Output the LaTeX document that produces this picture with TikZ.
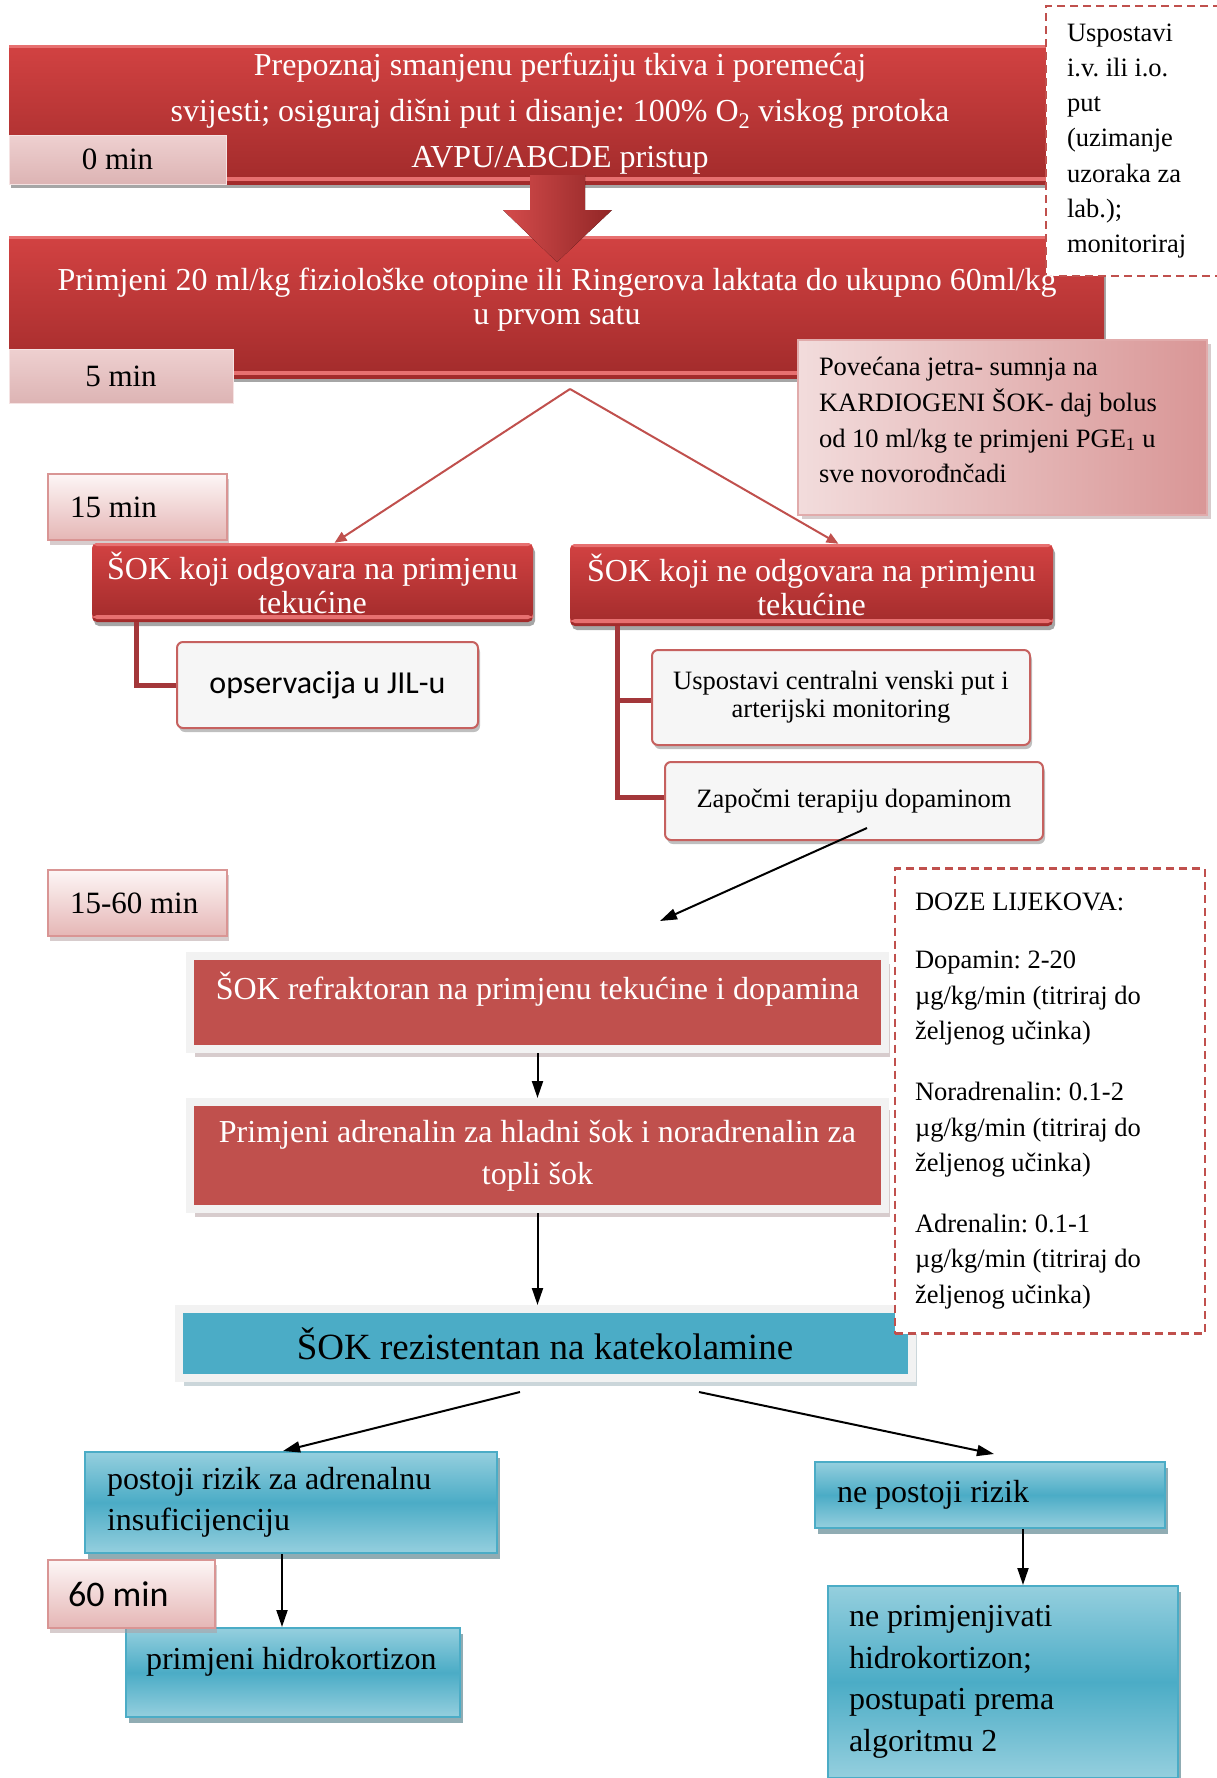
\documentclass[tikz,border=0pt]{standalone}
\usepackage{fontspec}
\setmainfont{Liberation Serif}
\newfontfamily\calibri{Carlito}
\usetikzlibrary{arrows.meta,shadows}
\frenchspacing

\definecolor{redtop}{HTML}{D24242}
\definecolor{redbot}{HTML}{A22B2B}
\definecolor{redhl}{HTML}{E77070}
\definecolor{accred}{HTML}{C0504D}
\definecolor{pinktop}{HTML}{EED0D0}
\definecolor{pinkbot}{HTML}{DDB4B4}
\definecolor{rosetop}{HTML}{FDF6F6}
\definecolor{rosebot}{HTML}{E5B6B5}
\definecolor{roseline}{HTML}{D99594}
\definecolor{liverlight}{HTML}{F2DCDC}
\definecolor{liverdark}{HTML}{D99696}
\definecolor{accblue}{HTML}{4BACC6}
\definecolor{bluelight}{HTML}{95CFDE}
\definecolor{blueshadow}{HTML}{215A68}
\definecolor{framegray}{HTML}{F2F2F2}
\definecolor{branchred}{HTML}{A3373A}
\definecolor{boxwhite}{HTML}{F6F6F6}
\definecolor{redshadow}{HTML}{B09A9C}
\definecolor{blueframeshadow}{HTML}{98AEB6}

\tikzset{
  bigtxt/.style={align=center,font=\fontsize{32}{46}\selectfont},
  redbox/.style={draw=none,top color=redtop,bottom color=redbot,
    drop shadow={shadow xshift=2pt,shadow yshift=-4pt,fill=black,opacity=.35},
    path picture={\fill[redhl] ([yshift=3pt]path picture bounding box.south west) rectangle ([yshift=7pt]path picture bounding box.south east);
      \fill[redhl] (path picture bounding box.north west) rectangle ([yshift=-3pt]path picture bounding box.north east);}},
  redround/.style={redbox,rounded corners=5pt,align=center,text=white,font=\fontsize{32}{34}\selectfont},
  pinklbl/.style={top color=pinktop,bottom color=pinkbot,draw=pinktop!60!white,line width=1pt,font=\fontsize{31}{36}\selectfont},
  roselbl/.style={top color=rosetop,bottom color=rosebot,draw=roseline,line width=1.5pt,align=flush left,
    drop shadow={shadow xshift=2pt,shadow yshift=-5pt,fill=redshadow},font=\fontsize{31}{36}\selectfont},
  liverbox/.style={left color=liverlight,right color=liverdark,draw=liverdark!80!white,line width=2pt,align=flush left,
    drop shadow={shadow xshift=4pt,shadow yshift=-4pt,fill=redshadow},font=\fontsize{26.5}{35.7}\selectfont},
  whitebox/.style={fill=boxwhite,draw=accred!90!white,line width=2pt,rounded corners=6pt,align=center,
    drop shadow={shadow xshift=2pt,shadow yshift=-4pt,fill=black,opacity=.25},font=\fontsize{26.5}{28}\selectfont},
  flatred/.style={fill=accred,draw=framegray,line width=8pt,text=white,align=flush center,
    drop shadow={shadow xshift=5pt,shadow yshift=-8pt,fill=redshadow},font=\fontsize{32}{42}\selectfont},
  flatblue/.style={fill=accblue,draw=framegray,line width=8pt,
    drop shadow={shadow xshift=5pt,shadow yshift=-8pt,fill=blueframeshadow},font=\fontsize{37}{40}\selectfont},
  bluebox/.style={top color=bluelight,bottom color=bluelight,middle color=accblue,draw=accblue,line width=2pt,align=flush left,
    drop shadow={shadow xshift=3pt,shadow yshift=-6pt,fill=blueshadow},font=\fontsize{32}{41.5}\selectfont},
  dashbox/.style={draw=accred,fill=white,line width=2.5pt,dash pattern=on 8pt off 5pt,align=flush left,font=\fontsize{26.5}{35.3}\selectfont},
  hightxt/.style={text height=22pt,text depth=29pt},
  splitline/.style={draw=accred,line width=2pt,-{Triangle[length=12pt,width=10pt]}},
  flow/.style={draw=black,line width=2pt,-{Triangle[length=17pt,width=11pt]}},
  branch/.style={draw=branchred,line width=5pt}
}

\begin{document}
\begin{tikzpicture}[x=1pt,y=-1pt]
\useasboundingbox (0,0) rectangle (1217,1778);
% 0 min
\node[redbox,minimum width=1037pt,minimum height=139pt] (recog) at (527.5,114.5) {};
\node[bigtxt,text=white] (recogtxt) at (560,114) {Prepoznaj smanjenu perfuziju tkiva i poremećaj\\ svijesti; osiguraj dišni put i disanje: 100\% O\textsubscript{2} viskog protoka\\ AVPU/ABCDE pristup};
\node[pinklbl,minimum width=217pt,minimum height=49pt] (t0) at (117.5,159.5) {0 min};
% 5 min
\node[redbox,minimum width=1095pt,minimum height=142pt] (fluid) at (556.5,307) {};
\node[dashbox,minimum width=180pt,minimum height=270pt,text width=138pt,inner xsep=21pt] (ivline) at (1136,141) {Uspostavi\\ i.v. ili i.o.\\ put\\ (uzimanje\\ uzoraka za\\ lab.);\\ monitoriraj};
\node[bigtxt,text=white,font=\fontsize{32}{34}\selectfont] (fluidtxt) at (557,300) {Primjeni 20 ml/kg fiziološke otopine ili Ringerova laktata do ukupno 60ml/kg\\ u prvom satu};
\node[pinklbl,minimum width=224pt,minimum height=54pt] (t5) at (121,376) {5 min};
\fill[left color=redtop!95!white,right color=redbot!90!black] (530,175) -- (585,175) -- (585,210) -- (612,210) -- (557,262) -- (503,210) -- (530,210) -- cycle;
% 15 min
\node[liverbox,minimum width=409pt,minimum height=175pt,text width=367pt,inner xsep=21pt] (liver) at (1002.5,427.5) {Povećana jetra- sumnja na\\ KARDIOGENI ŠOK- daj bolus\\ od 10 ml/kg te primjeni PGE\textsubscript{1} u\\ sve novorođnčadi\\[-21pt]\mbox{}};
\node[roselbl,minimum width=179pt,minimum height=66pt,text width=135pt,inner xsep=22pt] (t15) at (137.5,507) {15 min};
\node[redround,minimum width=441pt,minimum height=79pt] (okshock) at (312.5,582.5) {ŠOK koji odgovara na primjenu\\ tekućine};
\node[redround,minimum width=483pt,minimum height=82pt] (notokshock) at (811.5,585) {ŠOK koji ne odgovara na primjenu\\ tekućine};
\coordinate (split) at (570,389);
\draw[splitline] (split) -- ([xshift=22pt]okshock.north);
\draw[splitline] (split) -- ([xshift=27pt]notokshock.north);
\draw[branch] ([xshift=45pt]okshock.south west) |- (177,685);
\draw[branch] ([xshift=48pt]notokshock.south west) |- (652,700);
\draw[branch] ([xshift=48pt]notokshock.south west) |- (665,797);
\node[whitebox,minimum width=301pt,minimum height=86pt,font=\calibri\fontsize{32}{38}\selectfont] (observ) at (327.5,685) {opservacija u JIL-u};
\node[whitebox,minimum width=378pt,minimum height=95pt] (cvline) at (841,697.5) {Uspostavi centralni venski put i\\ arterijski monitoring};
\node[whitebox,minimum width=378pt,minimum height=78pt] (dopa) at (854,801) {Započmi terapiju dopaminom};
% 15-60 min
\node[roselbl,minimum width=179pt,minimum height=66pt,text width=135pt,inner xsep=22pt] (t1560) at (137.5,903) {15-60 min};
\coordinate (refrin) at (660,921);
\draw[flow] ([xshift=13pt,yshift=-27pt]dopa.center) -- (refrin);
\node[flatred,minimum width=695pt,minimum height=93pt,hightxt] (refr) at (537.5,1002.5) {ŠOK refraktoran na primjenu tekućine i dopamina};
\node[flatred,minimum width=695pt,minimum height=107pt,text width=660pt] (adren) at (537.5,1155.5) {Primjeni adrenalin za hladni šok i noradrenalin za\\ topli šok};
\node[flatblue,minimum width=733pt,minimum height=69pt] (rezist) at (545,1343.5) {ŠOK rezistentan na katekolamine};
\node[dashbox,minimum width=310pt,minimum height=465pt,text width=270pt,inner xsep=20pt] (doses) at (1050,1101) {DOZE LIJEKOVA:\\[23pt] Dopamin: 2-20\\ µg/kg/min (titriraj do\\ željenog učinka)\\[26pt] Noradrenalin: 0.1-2\\ µg/kg/min (titriraj do\\ željenog učinka)\\[26pt] Adrenalin: 0.1-1\\ µg/kg/min (titriraj do\\ željenog učinka)};
\draw[flow] (refr.south) -- (adren.north);
\draw[flow] (adren.south) -- (adren.south |- rezist.north);
% 60 min
\node[bluebox,minimum width=412pt,minimum height=101pt,text width=368pt,inner xsep=22pt] (risk) at (291,1502.5) {postoji rizik za adrenalnu\\ insuficijenciju};
\node[bluebox,minimum width=350pt,minimum height=66pt,text width=306pt,inner xsep=22pt] (norisk) at (990,1495) {ne postoji rizik};
\node[bluebox,minimum width=334pt,minimum height=89pt,text width=294pt,inner xsep=20pt,hightxt] (hydro) at (293,1672.5) {primjeni hidrokortizon};
\node[roselbl,minimum width=167pt,minimum height=68pt,text width=127pt,inner xsep=20pt,font=\calibri\fontsize{36}{40}\selectfont] (t60) at (131.5,1594) {60 min};
\node[bluebox,minimum width=350pt,minimum height=192pt,text width=308pt,inner xsep=21pt] (noh) at (1003,1682) {ne primjenjivati\\ hidrokortizon;\\ postupati prema\\ algoritmu 2};
\draw[flow] ([xshift=-25pt,yshift=-10pt]rezist.south) -- ([xshift=-8pt]risk.north);
\draw[flow] ([xshift=154pt,yshift=-10pt]rezist.south) -- ([xshift=4pt,yshift=7pt]norisk.north);
\draw[flow] ([xshift=-9pt]risk.south) -- ([xshift=-9pt]risk.south |- hydro.north);
\draw[flow] ([xshift=33pt]norisk.south) -- ([xshift=33pt]norisk.south |- noh.north);
\end{tikzpicture}
\end{document}
